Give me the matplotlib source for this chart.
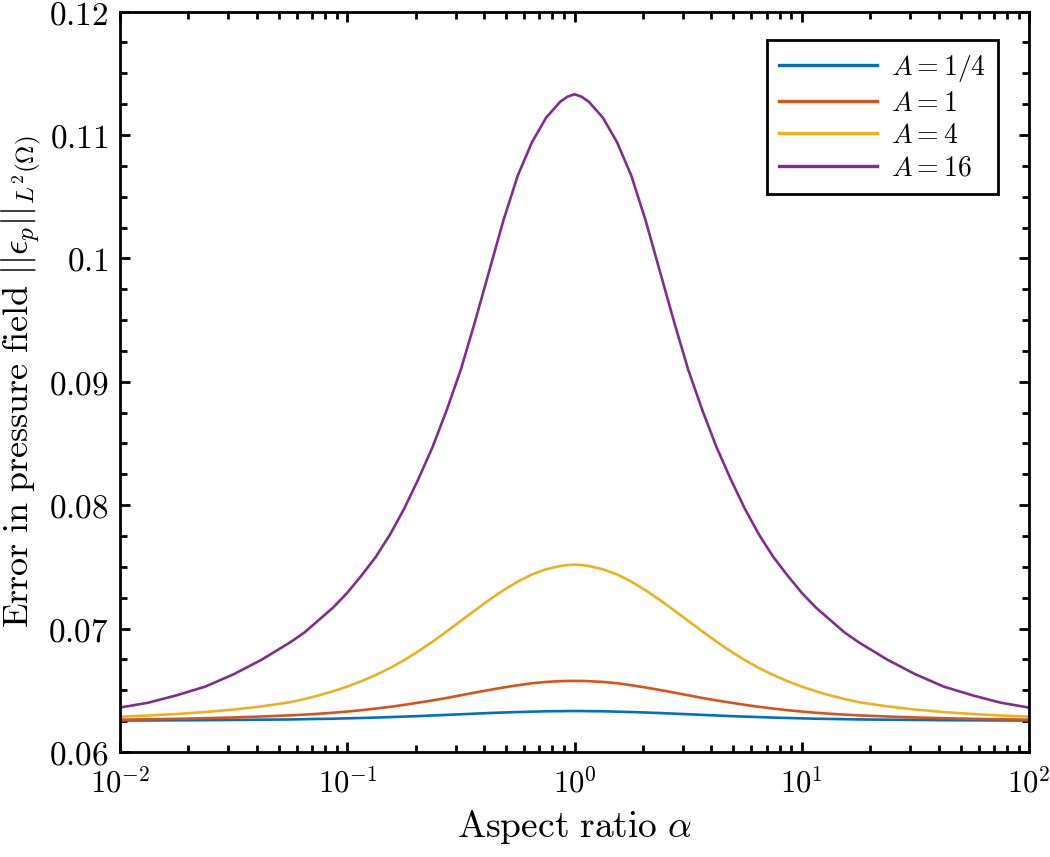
import numpy as np
import matplotlib
matplotlib.use("Agg")
import matplotlib.pyplot as plt
from matplotlib.ticker import FixedLocator, LogLocator, FuncFormatter, NullFormatter

plt.rcParams["mathtext.fontset"] = "cm"
plt.rcParams["font.family"] = "serif"

# log10 del cociente de aspecto
log_alpha = [-2.0, -1.875, -1.75, -1.625, -1.5, -1.375, -1.25, -1.1875, -1.125, -1.0625,
             -1.0, -0.9375, -0.875, -0.8125, -0.75, -0.6875, -0.625, -0.5625, -0.5,
             -0.4375, -0.375, -0.3125, -0.25, -0.1875, -0.125, -0.0625, -0.03125, 0.0,
             0.03125, 0.0625, 0.125, 0.1875, 0.25, 0.3125, 0.375, 0.4375, 0.5,
             0.5625, 0.625, 0.6875, 0.75, 0.8125, 0.875, 0.9375, 1.0,
             1.0625, 1.125, 1.1875, 1.25, 1.375, 1.5, 1.625, 1.75, 1.875, 2.0]

err_a_quarter = [0.06255, 0.06256, 0.06257, 0.06258, 0.06260, 0.06262, 0.06264, 0.06266, 0.06268, 0.06270,
                 0.06273, 0.06276, 0.06279, 0.06283, 0.06287, 0.06291, 0.06296, 0.06301, 0.06306,
                 0.06311, 0.06316, 0.06320, 0.06324, 0.06327, 0.06330, 0.06331, 0.06332, 0.06332,
                 0.06332, 0.06331, 0.06330, 0.06327, 0.06324, 0.06320, 0.06316, 0.06311, 0.06306,
                 0.06301, 0.06296, 0.06291, 0.06287, 0.06283, 0.06279, 0.06276, 0.06273,
                 0.06270, 0.06268, 0.06266, 0.06264, 0.06262, 0.06260, 0.06258, 0.06257, 0.06256, 0.06255]

err_a_1 = [0.06262, 0.06265, 0.06269, 0.06274, 0.06280, 0.06288, 0.06297, 0.06303, 0.06310, 0.06318,
           0.06328, 0.06339, 0.06352, 0.06366, 0.06382, 0.06400, 0.06418, 0.06438, 0.06460,
           0.06482, 0.06503, 0.06523, 0.06541, 0.06557, 0.06568, 0.06574, 0.06576, 0.06576,
           0.06576, 0.06574, 0.06568, 0.06557, 0.06541, 0.06523, 0.06503, 0.06482, 0.06460,
           0.06438, 0.06418, 0.06400, 0.06382, 0.06366, 0.06352, 0.06339, 0.06328,
           0.06318, 0.06310, 0.06303, 0.06297, 0.06288, 0.06280, 0.06274, 0.06269, 0.06265, 0.06262]

err_a_4 = [0.06286, 0.06296, 0.06308, 0.06324, 0.06344, 0.06370, 0.06404, 0.06430, 0.06459, 0.06492,
           0.06530, 0.06574, 0.06624, 0.06680, 0.06744, 0.06816, 0.06894, 0.06977, 0.07063,
           0.07149, 0.07233, 0.07311, 0.07381, 0.07439, 0.07481, 0.07507, 0.07515, 0.07518,
           0.07515, 0.07507, 0.07481, 0.07439, 0.07381, 0.07311, 0.07233, 0.07149, 0.07063,
           0.06977, 0.06894, 0.06816, 0.06744, 0.06680, 0.06624, 0.06574, 0.06530,
           0.06492, 0.06459, 0.06430, 0.06404, 0.06370, 0.06344, 0.06324, 0.06308, 0.06296, 0.06286]

err_a_16 = [0.0636, 0.0640, 0.0646, 0.0653, 0.0663, 0.0675, 0.0689, 0.0697, 0.0707, 0.0717,
            0.0729, 0.0743, 0.0758, 0.0776, 0.0797, 0.0821, 0.0847, 0.0877, 0.0910,
            0.0949, 0.0990, 0.1031, 0.1067, 0.1094, 0.1114, 0.1127, 0.1131, 0.1133,
            0.1131, 0.1127, 0.1114, 0.1094, 0.1067, 0.1031, 0.0990, 0.0949, 0.0910,
            0.0877, 0.0847, 0.0821, 0.0797, 0.0776, 0.0758, 0.0743, 0.0729,
            0.0717, 0.0707, 0.0697, 0.0689, 0.0675, 0.0663, 0.0653, 0.0646, 0.0640, 0.0636]

labels = [r"$A = 1/4$", r"$A = 1$", r"$A = 4$", r"$A = 16$"]
colors = ["#0072BD", "#D95319", "#EDB120", "#7E2F8E"]

alpha = np.power(10.0, log_alpha)

fig = plt.figure(figsize=(10.5, 8.57), dpi=100)
ax = fig.add_axes([0.1143, 0.1225, 0.8657, 0.864])

for serie, lab, col in zip([err_a_quarter, err_a_1, err_a_4, err_a_16], labels, colors):
    ax.plot(alpha, serie, color=col, lw=1.9, label=lab, solid_joinstyle="round")

ax.set_xscale("log")
ax.set_xlim(1e-2, 1e2)
ax.set_ylim(0.06, 0.12)

ax.yaxis.set_major_locator(FixedLocator([0.06, 0.07, 0.08, 0.09, 0.10, 0.11, 0.12]))
ax.yaxis.set_minor_locator(FixedLocator(np.arange(0.06, 0.1201, 0.0025)))
ax.yaxis.set_major_formatter(FuncFormatter(lambda v, p: r"$%g$" % round(v, 4)))
ax.xaxis.set_major_locator(LogLocator(base=10, numticks=10))
ax.xaxis.set_minor_locator(LogLocator(base=10, subs=np.arange(2, 10), numticks=20))
ax.xaxis.set_major_formatter(FuncFormatter(lambda v, p: r"$10^{%d}$" % round(np.log10(v))))
ax.xaxis.set_minor_formatter(NullFormatter())

ax.tick_params(which="both", direction="in", top=True, right=True, width=2.0)
ax.tick_params(which="major", length=7.5)
ax.tick_params(which="minor", length=5)
ax.tick_params(axis="x", which="major", pad=12, labelsize=22)
ax.tick_params(axis="y", which="major", pad=8, labelsize=24)
for s in ax.spines.values():
    s.set_linewidth(2.0)

ax.set_xlabel(r"$\mathrm{Aspect\ ratio}\ \alpha$", fontsize=27, labelpad=6)
ax.set_ylabel(r"$\mathrm{Error\ in\ pressure\ field}\ ||\epsilon_p||_{L^2(\Omega)}$", fontsize=26, labelpad=4)

leg = ax.legend(loc="upper right", fontsize=20, fancybox=False, framealpha=1,
                edgecolor="black", handlelength=3.5, handletextpad=0.5, borderpad=0.45,
                labelspacing=0.2, borderaxespad=0, bbox_to_anchor=(0.966, 0.961))
leg.get_frame().set_linewidth(2.0)
for line in leg.get_lines():
    line.set_linewidth(2.4)

fig.savefig("out.png", dpi=100)
